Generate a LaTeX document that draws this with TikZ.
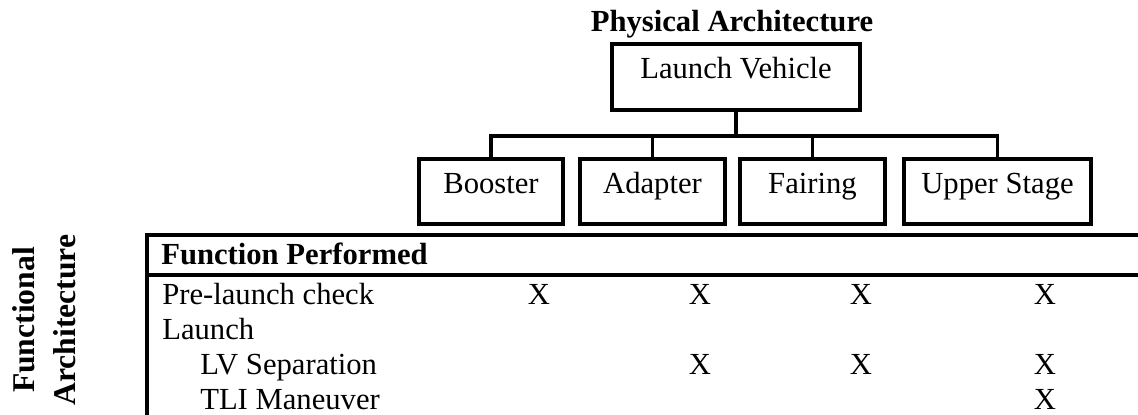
\documentclass[tikz,border=0pt]{standalone}
\usepackage{fontspec}
\setmainfont{Liberation Serif}
\usepackage{tikz}
\usetikzlibrary{calc}
\newcommand{\diagfont}{\fontsize{21.8}{26}\selectfont}

\begin{document}
\begin{tikzpicture}[
    font=\diagfont,
    thickline/.style={line width=2.6pt},
    unit/.style={draw, thickline, inner sep=0pt, text height=0.55cm, text depth=0.45cm},
    cell/.style={anchor=base west, inner sep=0pt},
    xmark/.style={anchor=base, inner sep=0pt}
]
    \useasboundingbox (0,0) rectangle (28.45,10.375);

    % Physical architecture
    \node[anchor=base, font=\diagfont\bfseries] (phys) at (18.3,9.575) {Physical Architecture};
    \node[unit, minimum width=6.2cm, minimum height=1.66cm] (lv) at (18.4,8.45) {Launch Vehicle};
    \node[unit, minimum width=3.6cm, minimum height=1.635cm] (booster) at (12.275,5.5875) {Booster};
    \node[unit, minimum width=3.625cm, minimum height=1.635cm] (adapter) at (16.3125,5.5875) {Adapter};
    \node[unit, minimum width=3.625cm, minimum height=1.635cm] (fairing) at (20.3125,5.5875) {Fairing};
    \node[unit, minimum width=4.675cm, minimum height=1.635cm] (upper) at (24.9375,5.5875) {Upper Stage};

    % Tree
    \coordinate (bus) at (18.4,6.975);
    \draw[thickline] (lv.south) -- (bus);
    \foreach \part in {booster, adapter, fairing, upper}
        \draw[thickline] (bus) -| (\part.north);

    % Functional architecture
    \node[rotate=90, align=center, font=\fontsize{22.5}{24}\selectfont\bfseries] (func) at (1.1,2.375) {Functional\\[5pt]Architecture};

    % Table
    \coordinate (tabTL) at (3.675,4.5);
    \coordinate (tabTR) at (28.45,4.5);
    \coordinate (tabBL) at (3.675,0);
    \coordinate (headL) at (3.675,3.5);
    \coordinate (headR) at (28.45,3.5);
    \draw[thickline] (tabTR) -- (tabTL) -- (tabBL);
    \draw[thickline] (headL) -- (headR);

    \node[cell, font=\diagfont\bfseries] (head) at (4.025,3.75) {Function Performed};
    \node[cell] (prelaunch) at (4.05,2.75) {Pre-launch check};
    \node[cell] (launch) at (4.05,1.875) {Launch};
    \node[cell] (lvsep) at (5.0,1.0) {LV Separation};
    \node[cell] (tli) at (5.0,0.125) {TLI Maneuver};

    % Marks
    \foreach \col/\xx in {b/13.475, a/17.5, f/21.525, u/26.125}
        \node[xmark] (pre-\col) at (\xx,2.75) {X};
    \foreach \col/\xx in {a/17.5, f/21.525, u/26.125}
        \node[xmark] (sep-\col) at (\xx,1.0) {X};
    \node[xmark] (tli-u) at (26.125,0.125) {X};
\end{tikzpicture}
\end{document}
